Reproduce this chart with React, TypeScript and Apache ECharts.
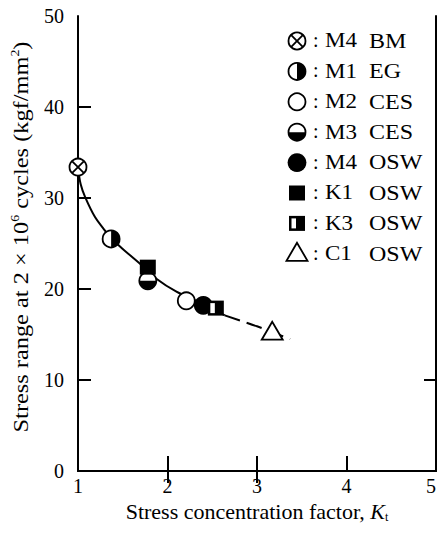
import React, { useEffect, useRef } from "react";
import * as echarts from "echarts";

// ---- data ----
const xTickLabels = [1, 2, 3, 4, 5];
const yTickLabels = [0, 10, 20, 30, 40, 50];
const bottomTickMarks = [2, 3, 4];
const topTickMarks = [2, 3];
const leftTickMarks = [10, 20, 30, 40];
const rightTickMarks = [10];

const seriesNames = ["M4 BM", "M1 EG", "M2 CES", "M3 CES", "M4 OSW", "K1 OSW", "K3 OSW", "C1 OSW"];
const legendCodes = ["M4", "M1", "M2", "M3", "M4", "K1", "K3", "C1"];
const legendTypes = ["BM", "EG", "CES", "CES", "OSW", "OSW", "OSW", "OSW"];
const markerKinds = ["xcircle", "halfRight", "open", "halfBottom", "filled", "square", "squareHalf", "triangle"];

const m4bm = [[1.0, 33.4]];
const m1eg = [[1.37, 25.5]];
const m2ces = [[2.21, 18.7]];
const m3ces = [[1.78, 20.9]];
const m4osw = [[2.4, 18.2]];
const k1osw = [[1.78, 22.4]];
const k3osw = [[2.54, 17.9]];
const c1osw = [[3.17, 15.2]];

const fitSolid = [
  [1.0, 33.4], [1.03, 31.5], [1.08, 30.1], [1.19, 27.9], [1.28, 26.7], [1.37, 25.6],
  [1.5, 24.4], [1.69, 22.8], [1.88, 21.1], [2.1, 19.7], [2.3, 18.8], [2.45, 18.1], [2.64, 17.1],
];
const fitDashed = [[2.64, 17.1], [3.0, 15.9], [3.37, 14.5]];

const seriesData = [m4bm, m1eg, m2ces, m3ces, m4osw, k1osw, k3osw, c1osw];

const xAxisTitle = "{n|Stress concentration factor, }{k|K}{t|t}";
const yAxisTitle = "{a|Stress range at 2 × 10}{s|6}{a| cycles (kgf/mm}{s|2}{a|)}";

const FONT = '"Liberation Serif", "Times New Roman", serif';

function markerEls(kind: string, x: number, y: number): any[] {
  const r = 8.5;
  const lw = 1.8;
  const black = "#000";
  const white = "#fff";
  const baseCircle = { type: "circle", shape: { cx: x, cy: y, r }, style: { fill: white, stroke: black, lineWidth: lw } };
  switch (kind) {
    case "xcircle": {
      const d = r * 0.68;
      return [
        baseCircle,
        { type: "line", shape: { x1: x - d, y1: y - d, x2: x + d, y2: y + d }, style: { stroke: black, lineWidth: lw } },
        { type: "line", shape: { x1: x - d, y1: y + d, x2: x + d, y2: y - d }, style: { stroke: black, lineWidth: lw } },
      ];
    }
    case "halfRight":
      return [
        baseCircle,
        { type: "sector", shape: { cx: x, cy: y, r0: 0, r, startAngle: -Math.PI / 2, endAngle: Math.PI / 2, clockwise: true }, style: { fill: black } },
      ];
    case "open":
      return [baseCircle];
    case "halfBottom":
      return [
        baseCircle,
        { type: "sector", shape: { cx: x, cy: y, r0: 0, r, startAngle: 0, endAngle: Math.PI, clockwise: true }, style: { fill: black } },
      ];
    case "filled":
      return [{ type: "circle", shape: { cx: x, cy: y, r: r + 0.9 }, style: { fill: black } }];
    case "square":
      return [{ type: "rect", shape: { x: x - 8, y: y - 7.5, width: 16, height: 15 }, style: { fill: black } }];
    case "squareHalf":
      return [
        { type: "rect", shape: { x: x - 8, y: y - 7.5, width: 16, height: 15 }, style: { fill: black } },
        { type: "rect", shape: { x: x - 5.5, y: y - 5, width: 4.5, height: 10 }, style: { fill: white } },
      ];
    case "triangle":
      return [
        {
          type: "polygon",
          shape: { points: [[x, y - 11], [x - 10.5, y + 7], [x + 10.5, y + 7]] },
          style: { fill: white, stroke: black, lineWidth: lw },
        },
      ];
  }
  return [];
}

export default function App() {
  const ref = useRef<HTMLDivElement>(null);

  useEffect(() => {
    document.body.style.margin = "0";
    const chart = echarts.init(ref.current!, null, { renderer: "svg" });

    const axisLine = { show: true, lineStyle: { color: "#000", width: 2 } };
    const tickStyle = { color: "#000", width: 2 };

    const markerSeries = seriesData.map((data, i) => ({
      name: seriesNames[i],
      type: "custom",
      data,
      xAxisIndex: 0,
      yAxisIndex: 0,
      z: 5 + i,
      encode: { x: 0, y: 1 },
      renderItem: (params: any, api: any) => {
        const p = api.coord([api.value(0), api.value(1)]);
        return { type: "group", children: markerEls(markerKinds[i], p[0], p[1]) };
      },
    }));

    const legendX = 297;
    const legendY0 = 41;
    const legendStep = 30.4;
    const legendFont = `20px ${FONT}`;
    const legendGraphics: any[] = [];
    seriesNames.forEach((_, i) => {
      const y = legendY0 + i * legendStep;
      legendGraphics.push({ type: "group", children: markerEls(markerKinds[i], legendX, y) });
      legendGraphics.push({
        type: "text",
        x: 313,
        y: y - 1,
        style: { text: ":", font: legendFont, fill: "#000", verticalAlign: "middle", align: "left" },
      });
      legendGraphics.push({
        type: "text",
        x: 325,
        y,
        scaleX: 1.15,
        style: { text: legendCodes[i], font: legendFont, fill: "#000", verticalAlign: "middle", align: "left" },
      });
      legendGraphics.push({
        type: "text",
        x: 369,
        y,
        scaleX: 1.2,
        style: { text: legendTypes[i], font: legendFont, fill: "#000", verticalAlign: "middle", align: "left" },
      });
    });

    const yTitle = {
      type: "text",
      x: 21,
      y: 237,
      rotation: Math.PI / 2,
      scaleX: 1.16,
      style: {
        text: yAxisTitle,
        align: "center",
        verticalAlign: "middle",
        fill: "#000",
        rich: {
          a: { fontSize: 21, fontFamily: FONT, fill: "#000", lineHeight: 24 },
          s: { fontSize: 12, fontFamily: FONT, fill: "#000", verticalAlign: "top", lineHeight: 12 },
        },
      },
    };

    chart.setOption({
      animation: false,
      backgroundColor: "#fff",
      grid: { left: 78, right: 2, top: 16, bottom: 63, containLabel: false, outerBoundsMode: "none" },
      xAxis: [
        {
          type: "value",
          min: 1,
          max: 5,
          interval: 1,
          position: "bottom",
          axisLine,
          axisTick: { show: true, inside: true, length: 15, customValues: bottomTickMarks, lineStyle: tickStyle },
          axisLabel: {
            customValues: xTickLabels,
            fontSize: 20,
            fontFamily: FONT,
            color: "#000",
            margin: 5,
            alignMaxLabel: "right",
          },
          splitLine: { show: false },
          name: xAxisTitle,
          nameLocation: "middle",
          nameGap: 27,
          nameTextStyle: {
            rich: {
              n: { fontSize: 22, fontFamily: FONT, color: "#000" },
              k: { fontSize: 22, fontFamily: FONT, fontStyle: "italic", color: "#000" },
              t: { fontSize: 12, fontFamily: FONT, color: "#000", verticalAlign: "bottom", padding: [6, 0, 0, 0] },
            },
          },
        },
        {
          type: "value",
          min: 1,
          max: 5,
          interval: 1,
          position: "top",
          axisLine,
          axisTick: { show: true, inside: true, length: 12, customValues: topTickMarks, lineStyle: tickStyle },
          axisLabel: { show: false },
          splitLine: { show: false },
        },
      ],
      yAxis: [
        {
          type: "value",
          min: 0,
          max: 50,
          interval: 10,
          position: "left",
          axisLine,
          axisTick: { show: true, inside: true, length: 13, customValues: leftTickMarks, lineStyle: tickStyle },
          axisLabel: { customValues: yTickLabels, fontSize: 20, fontFamily: FONT, color: "#000", margin: 14 },
          splitLine: { show: false },
        },
        {
          type: "value",
          min: 0,
          max: 50,
          interval: 10,
          position: "right",
          axisLine,
          axisTick: { show: true, inside: true, length: 12, customValues: rightTickMarks, lineStyle: tickStyle },
          axisLabel: { show: false },
          splitLine: { show: false },
        },
      ],
      graphic: [...legendGraphics, yTitle],
      series: [
        {
          type: "line",
          data: fitSolid,
          showSymbol: false,
          smooth: 0.35,
          z: 2,
          lineStyle: { color: "#000", width: 2 },
        },
        {
          type: "line",
          data: fitDashed,
          showSymbol: false,
          smooth: 0.3,
          z: 2,
          lineStyle: { color: "#000", width: 2, type: [16, 7] },
        },
        ...markerSeries,
      ],
    });

    return () => chart.dispose();
  }, []);

  return <div ref={ref} style={{ width: 438, height: 534 }} />;
}
